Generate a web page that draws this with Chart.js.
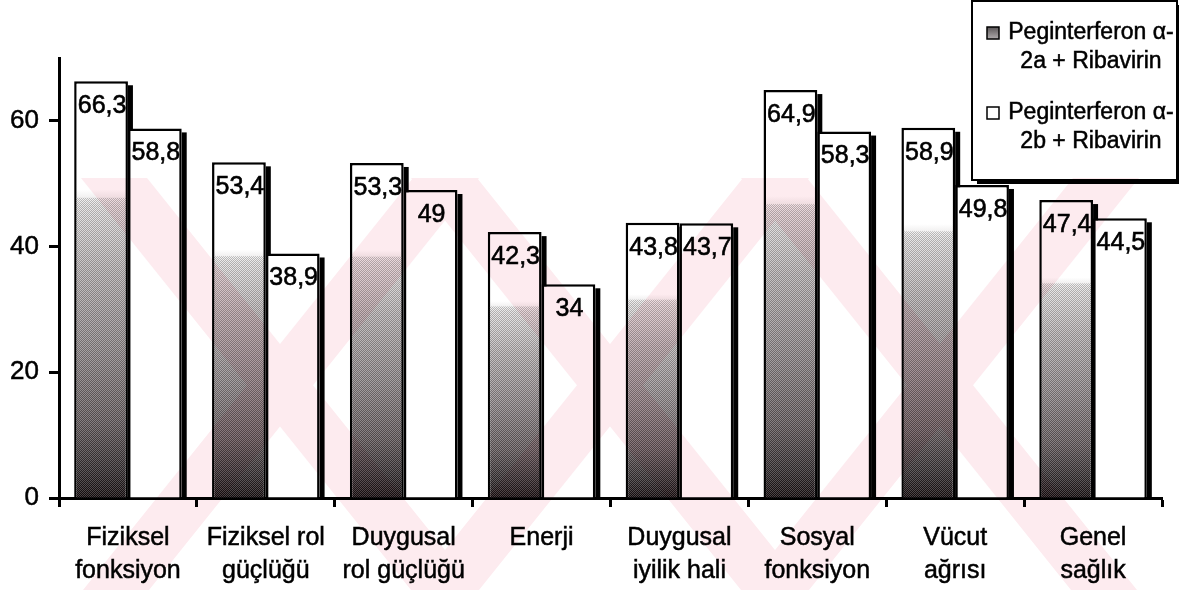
<!DOCTYPE html>
<html>
<head>
<meta charset="utf-8">
<script src="https://cdn.jsdelivr.net/npm/chart.js@4.4.1/dist/chart.umd.min.js"></script>
<style>
  html, body { margin: 0; padding: 0; background: #fff; }
  #wrap { width: 1179px; height: 590px; }
</style>
</head>
<body>
<div id="wrap"><canvas id="c" width="1179" height="590"></canvas></div>
<script>
// SF-36 alt ölçek puanları
const categories = [
  ['Fiziksel', 'fonksiyon'],
  ['Fiziksel rol', 'güçlüğü'],
  ['Duygusal', 'rol güçlüğü'],
  ['Enerji'],
  ['Duygusal', 'iyilik hali'],
  ['Sosyal', 'fonksiyon'],
  ['Vücut', 'ağrısı'],
  ['Genel', 'sağlık']
];
const seriesNames = [
  ['Peginterferon α-', '2a + Ribavirin'],
  ['Peginterferon α-', '2b + Ribavirin']
];
const peg2a = [66.3, 53.4, 53.3, 42.3, 43.8, 64.9, 58.9, 47.4];
const peg2b = [58.8, 38.9, 49, 34, 43.7, 58.3, 49.8, 44.5];
const yTicks = [0, 20, 40, 60];
const yMax = 70;

const FONT = "'Liberation Sans', Arial, Helvetica, sans-serif";
Chart.defaults.font.family = FONT;
Chart.defaults.color = '#000';

// shaded fill: white top part fading to near black at the base
function shadedFill(ctx) {
  const chart = ctx.chart;
  const y = chart.scales && chart.scales.y;
  if (!y || ctx.type !== 'data') return '#8a8a8a';
  const top = y.getPixelForValue(ctx.raw);
  const base = y.getPixelForValue(0);
  if (!isFinite(top) || !isFinite(base) || base <= top) return '#8a8a8a';
  const g = chart.ctx.createLinearGradient(0, top, 0, base);
  g.addColorStop(0, '#ffffff');
  g.addColorStop(0.26, '#ffffff');
  g.addColorStop(0.30, '#e2e0e0');
  g.addColorStop(0.45, '#b9b4b5');
  g.addColorStop(0.65, '#8f888a');
  g.addColorStop(0.82, '#655c5e');
  g.addColorStop(0.93, '#363032');
  g.addColorStop(1, '#150c0e');
  return g;
}

// fine halftone texture laid over the shaded bars
const grain = document.createElement('canvas');
grain.width = 2; grain.height = 2;
(function () {
  const gc = grain.getContext('2d');
  gc.fillStyle = 'rgba(255,255,255,0.22)';
  gc.fillRect(0, 0, 1, 1); gc.fillRect(1, 1, 1, 1);
  gc.fillStyle = 'rgba(0,0,0,0.22)';
  gc.fillRect(1, 0, 1, 1); gc.fillRect(0, 1, 1, 1);
})();

const barShadow = {
  id: 'barShadow',
  beforeDatasetsDraw(chart) {
    const g = chart.ctx;
    g.save();
    g.fillStyle = '#000';
    chart.data.datasets.forEach((ds, i) => {
      chart.getDatasetMeta(i).data.forEach(bar => {
        const p = bar.getProps(['x', 'y', 'base', 'width'], true);
        const right = p.x + p.width / 2;
        g.fillRect(right, p.y + 4, 5, p.base - p.y - 4);
      });
    });
    g.restore();
  }
};

const grainAndLabels = {
  id: 'grainAndLabels',
  afterDatasetsDraw(chart) {
    const g = chart.ctx;
    g.save();
    // texture on the shaded series
    const pat = g.createPattern(grain, 'repeat');
    chart.getDatasetMeta(0).data.forEach(bar => {
      const p = bar.getProps(['x', 'y', 'base', 'width'], true);
      const h = p.base - p.y;
      const y0 = p.y + h * 0.28;
      g.fillStyle = pat;
      g.fillRect(p.x - p.width / 2 + 2, y0, p.width - 4, p.base - y0);
    });
    // value labels inside the bar tops
    g.fillStyle = '#000';
    g.strokeStyle = '#000';
    g.lineWidth = 0.6;
    g.font = '25px ' + FONT;
    g.textAlign = 'center';
    g.textBaseline = 'middle';
    chart.data.datasets.forEach((ds, i) => {
      chart.getDatasetMeta(i).data.forEach((bar, j) => {
        const p = bar.getProps(['x', 'y'], true);
        const txt = String(ds.data[j]).replace('.', ',');
        g.fillText(txt, p.x + 1, p.y + 25);
        g.strokeText(txt, p.x + 1, p.y + 25);
      });
    });
    g.restore();
  }
};

// light pink crossing bands across the lower part of the figure
const BAND_TOP = 178, BAND_BOTTOM = 590, BAND_HALF = 33;
const BAND_ARMS = [
  [114, 444], [446, 116],
  [444, 774], [776, 446],
  [774, 1104], [1106, 776]
];
const backdrop = {
  id: 'backdrop',
  afterDraw(chart) {
    const g = chart.ctx;
    g.save();
    g.globalCompositeOperation = 'multiply';
    g.beginPath();
    g.rect(0, BAND_TOP, chart.width, BAND_BOTTOM - BAND_TOP);
    g.clip();
    g.beginPath();
    BAND_ARMS.forEach(([xt, xb]) => {
      g.moveTo(xt - BAND_HALF, BAND_TOP);
      g.lineTo(xt + BAND_HALF, BAND_TOP);
      g.lineTo(xb + BAND_HALF, BAND_BOTTOM);
      g.lineTo(xb - BAND_HALF, BAND_BOTTOM);
      g.closePath();
    });
    g.fillStyle = 'rgb(253,235,239)';
    g.fill('nonzero');
    g.restore();
  }
};

// boxed legend with two-line entries
const boxLegend = {
  id: 'boxLegend',
  afterDraw(chart) {
    const g = chart.ctx;
    const bx = 972, by = 1, bw = 205, bh = 179;
    g.save();
    g.fillStyle = '#000';
    g.fillRect(bx + 5, by + 4, bw, bh);
    g.fillStyle = '#fff';
    g.fillRect(bx, by, bw, bh);
    g.strokeStyle = '#000';
    g.lineWidth = 2;
    g.strokeRect(bx, by, bw, bh);
    g.font = '23px ' + FONT;
    g.textBaseline = 'middle';
    g.textAlign = 'center';
    const rows = [33, 113];
    chart.data.datasets.forEach((ds, i) => {
      const cy = rows[i];
      if (i === 0) {
        const sg = g.createLinearGradient(0, cy - 6, 0, cy + 6);
        sg.addColorStop(0, '#5a5557');
        sg.addColorStop(1, '#b0acad');
        g.fillStyle = sg;
      } else {
        g.fillStyle = '#fff';
      }
      g.fillRect(987, cy - 6, 12, 12);
      g.lineWidth = 1.5;
      g.strokeRect(987, cy - 6, 12, 12);
      g.fillStyle = '#000';
      g.lineWidth = 0.5;
      seriesNames[i].forEach((line, k) => {
        g.fillText(line, 1091, cy + 29 * k);
        g.strokeText(line, 1091, cy + 29 * k);
      });
    });
    g.restore();
  }
};

new Chart(document.getElementById('c'), {
  type: 'bar',
  data: {
    labels: categories,
    datasets: [
      {
        label: seriesNames[0].join(' '),
        data: peg2a,
        backgroundColor: shadedFill,
        borderColor: '#000',
        borderWidth: 2.5
      },
      {
        label: seriesNames[1].join(' '),
        data: peg2b,
        backgroundColor: '#fff',
        borderColor: '#000',
        borderWidth: 2.5
      }
    ]
  },
  options: {
    responsive: false,
    animation: false,
    devicePixelRatio: 1,
    layout: { padding: { top: 58, right: 17, left: 0, bottom: 0 } },
    datasets: { bar: { categoryPercentage: 0.78, barPercentage: 1 } },
    plugins: {
      legend: { display: false },
      tooltip: { enabled: false }
    },
    scales: {
      x: {
        grid: { offset: true, drawOnChartArea: false, tickLength: 9, tickWidth: 3, tickColor: '#000' },
        border: { color: '#000', width: 3 },
        ticks: {
          font: { size: 25, lineHeight: 1.32 }, color: '#000', padding: 15,
          maxRotation: 0, autoSkip: false, textStrokeColor: '#000', textStrokeWidth: 0.5
        },
        afterFit(s) { s.height = 92; }
      },
      y: {
        min: 0,
        max: yMax,
        afterBuildTicks(s) { s.ticks = yTicks.map(v => ({ value: v })); },
        grid: { drawOnChartArea: false, tickLength: 10, tickWidth: 3, tickColor: '#000' },
        border: { color: '#000', width: 3 },
        ticks: { font: { size: 26 }, color: '#000', padding: 10, textStrokeColor: '#000', textStrokeWidth: 0.5 },
        afterFit(s) { s.width = 59; }
      }
    }
  },
  plugins: [barShadow, grainAndLabels, boxLegend, backdrop]
});
</script>
</body>
</html>
